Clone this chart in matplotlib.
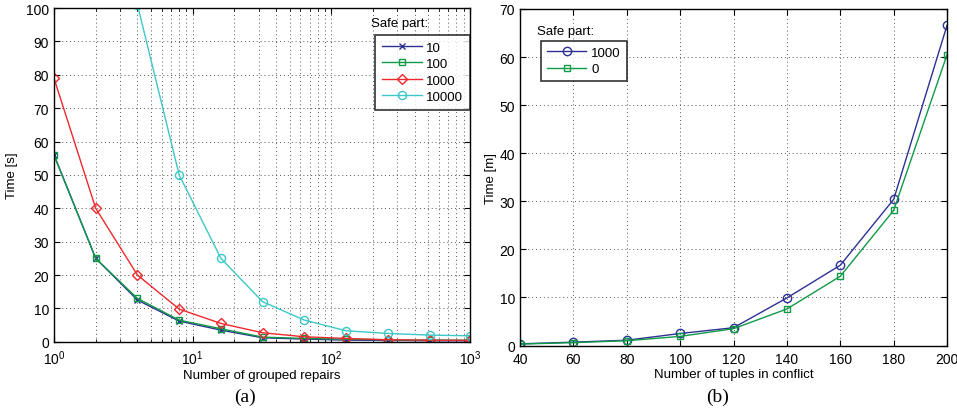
import numpy as np
import matplotlib
matplotlib.use("Agg")
import matplotlib.pyplot as plt
from matplotlib.ticker import LogLocator, NullFormatter

plt.rcParams['font.family'] = ['Liberation Sans', 'DejaVu Sans']

# (a) time vs number of grouped repairs, one curve per safe part size
grouped = [1, 2, 4, 8, 16, 32, 64, 128, 256, 512, 1000]
safe_a = ["10", "100", "1000", "10000"]
time_10 = [56, 25, 12.5, 6.2, 3.5, 1.2, 0.8, 0.5, 0.4, 0.3, 0.3]
time_100 = [56, 25, 13, 6.5, 3.9, 1.4, 1.0, 0.8, 0.6, 0.5, 0.5]
time_1000 = [79, 40, 20, 9.8, 5.5, 2.7, 1.5, 1.0, 0.6, 0.5, 0.4]
time_10000 = [400, 200, 101, 50, 25, 12, 6.5, 3.3, 2.5, 2.0, 1.8]

# (b) time vs tuples in conflict
tuples = [40, 60, 80, 100, 120, 140, 160, 180, 200]
safe_b = ["1000", "0"]
time_b_1000 = [0.35, 0.7, 1.1, 2.5, 3.7, 9.9, 16.7, 30.4, 66.6]
time_b_0 = [0.3, 0.6, 1.0, 1.9, 3.5, 7.6, 14.4, 28.1, 60.5]

blue = "#2e3192"
green = "#0f9a48"
red = "#f0282d"
cyan = "#3cc8c8"

fig = plt.figure(figsize=(9.57, 4.14), dpi=100)
ax1 = fig.add_axes([0.0564, 0.172, 0.4346, 0.806])
ax2 = fig.add_axes([0.5434, 0.163, 0.4462, 0.813])

fs = 9
tfs = 10
lfs = 9.5
grid_kw = dict(color="#555555", linestyle=(0, (1, 3)), linewidth=0.7)

# ---- left panel
ax1.plot(grouped, time_10, color=blue, marker="x", ms=4.5, mfc="none", lw=1, label=safe_a[0])
ax1.plot(grouped, time_100, color=green, marker="s", ms=5, mfc="none", lw=1, label=safe_a[1])
ax1.plot(grouped, time_1000, color=red, marker="D", ms=5, mfc="none", lw=1, label=safe_a[2])
ax1.plot(grouped, time_10000, color=cyan, marker="o", ms=5.8, mfc="none", lw=1, label=safe_a[3])
ax1.set_xscale("log")
ax1.set_xlim(1, 1000)
ax1.set_ylim(0, 100)
ax1.set_yticks(np.arange(0, 101, 10))
ax1.xaxis.set_major_locator(LogLocator(base=10, numticks=5))
ax1.xaxis.set_minor_locator(LogLocator(base=10, subs=np.arange(2, 10), numticks=20))
ax1.xaxis.set_minor_formatter(NullFormatter())
ax1.grid(True, which="major", **grid_kw)
ax1.grid(True, which="minor", axis="x", **grid_kw)
ax1.set_xlabel("Number of grouped repairs", fontsize=fs + 0.5, labelpad=1)
ax1.set_ylabel("Time [s]", fontsize=fs + 0.5, labelpad=6)
leg1 = ax1.legend(loc="upper right", bbox_to_anchor=(1.0, 0.92), fontsize=lfs,
                  frameon=True, fancybox=False, edgecolor="black", handlelength=3.0,
                  borderpad=0.5, labelspacing=0.32, handletextpad=0.35,
                  borderaxespad=0.0)
leg1.get_frame().set_linewidth(1.2)
ax1.text(0.83, 0.955, "Safe part:", transform=ax1.transAxes, fontsize=fs + 0.5,
         ha="center", va="center")
fig.text(0.256, 0.03, "(a)", family="Liberation Serif", fontsize=14, ha="center")

# ---- right panel
ax2.plot(tuples, time_b_1000, color=blue, marker="o", ms=6, mfc="none", lw=1, label=safe_b[0])
ax2.plot(tuples, time_b_0, color=green, marker="s", ms=5, mfc="none", lw=1, label=safe_b[1])
ax2.set_xlim(40, 200)
ax2.set_ylim(0, 70)
ax2.set_xticks(tuples)
ax2.set_yticks(np.arange(0, 71, 10))
ax2.grid(True, **grid_kw)
ax2.set_xlabel("Number of tuples in conflict", fontsize=fs + 0.5, labelpad=1)
ax2.set_ylabel("Time [m]", fontsize=fs + 0.5, labelpad=2)
leg2 = ax2.legend(loc="upper left", bbox_to_anchor=(0.049, 0.905), fontsize=lfs,
                  frameon=True, fancybox=False, edgecolor="black", handlelength=3.0,
                  borderpad=0.45, labelspacing=0.3, handletextpad=0.35,
                  borderaxespad=0.0)
leg2.get_frame().set_linewidth(1.2)
ax2.text(0.04, 0.935, "Safe part:", transform=ax2.transAxes, fontsize=fs + 0.5,
         ha="left", va="center")
fig.text(0.75, 0.03, "(b)", family="Liberation Serif", fontsize=14, ha="center")

for ax in (ax1, ax2):
    ax.tick_params(which="both", direction="in", top=True, right=True, labelsize=tfs)
    ax.tick_params(which="major", length=4)
    ax.tick_params(which="minor", length=2)
    ax.tick_params(axis="x", pad=5)
    for s in ax.spines.values():
        s.set_linewidth(1.0)
    ax.set_axisbelow(True)

fig.savefig("out.png", dpi=100)
